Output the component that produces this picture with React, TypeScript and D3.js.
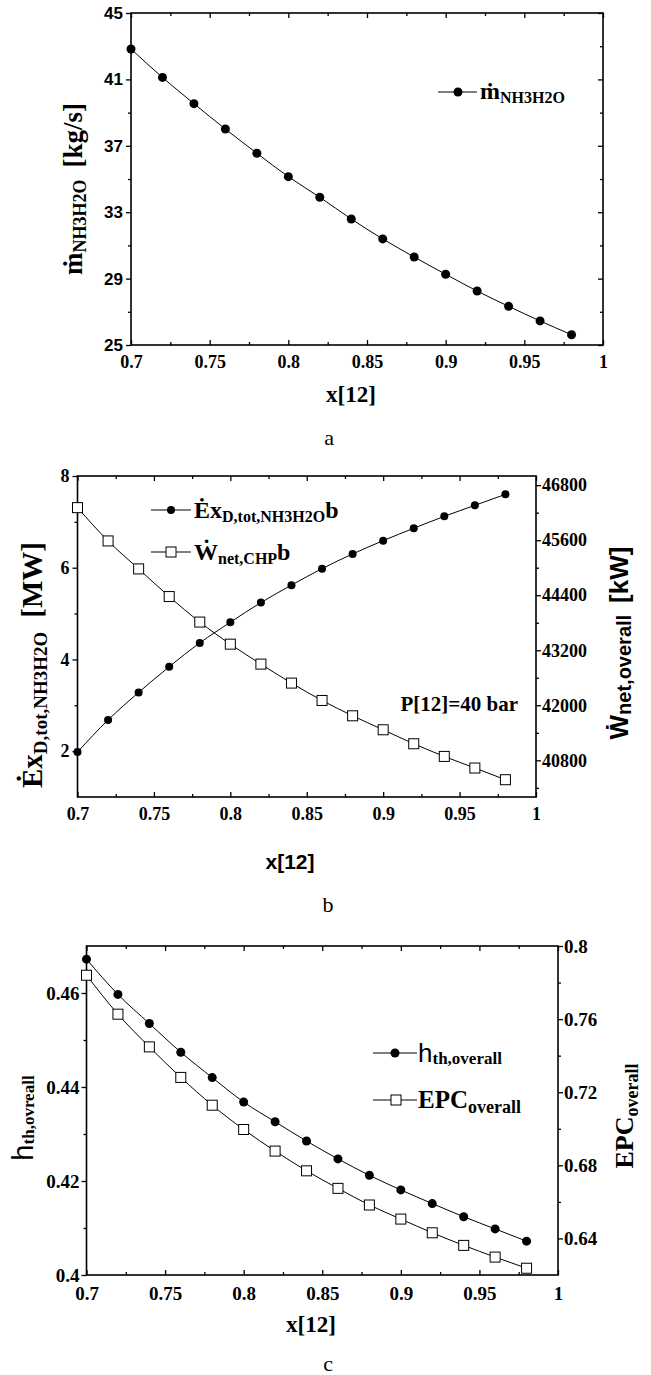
import React, { useEffect, useRef } from 'react';
import * as d3 from 'd3';

const SERIF = 'Liberation Serif, Times New Roman, serif';
const SANS = 'Liberation Sans, Arial, sans-serif';
const NARROW = 'Liberation Sans Narrow, Arial Narrow, Liberation Sans, sans-serif';

// x[12] values shared by the three panels
const xValues = [0.7, 0.72, 0.74, 0.76, 0.78, 0.8, 0.82, 0.84, 0.86, 0.88, 0.9, 0.92, 0.94, 0.96, 0.98];

// panel a
const massFlow = [42.83, 41.12, 39.54, 38.01, 36.55, 35.14, 33.9, 32.59, 31.39, 30.3, 29.26, 28.25, 27.33, 26.45, 25.62];
// panel b
const exDestruction = [1.98, 2.68, 3.28, 3.84, 4.36, 4.81, 5.24, 5.62, 5.98, 6.3, 6.59, 6.86, 7.12, 7.36, 7.6];
const netPower = [46310, 45584, 44974, 44371, 43815, 43333, 42898, 42484, 42105, 41771, 41466, 41161, 40885, 40632, 40377];
// panel c
const thermalEff = [0.4672, 0.4597, 0.4535, 0.4474, 0.442, 0.4368, 0.4326, 0.4285, 0.4247, 0.4212, 0.4181, 0.4152, 0.4124, 0.4098, 0.4072];
const epcOverall = [0.784, 0.7627, 0.7448, 0.7281, 0.7129, 0.6996, 0.6878, 0.677, 0.6674, 0.6583, 0.6506, 0.6431, 0.6362, 0.6298, 0.6237];

const xTicks = [0.7, 0.75, 0.8, 0.85, 0.9, 0.95, 1];
const xMinor = [0.725, 0.775, 0.825, 0.875, 0.925, 0.975];
const aTicks = [25, 29, 33, 37, 41, 45];
const aMinor = [27, 31, 35, 39, 43];
const bLeftTicks = [2, 4, 6, 8];
const bLeftMinor = [3, 5, 7];
const bRightTicks = [40800, 42000, 43200, 44400, 45600, 46800];
const bRightMinor = [40200, 41400, 42600, 43800, 45000, 46200];
const cLeftTicks = [0.4, 0.42, 0.44, 0.46];
const cLeftMinor = [0.41, 0.43, 0.45];
const cRightTicks = [0.64, 0.68, 0.72, 0.76, 0.8];
const cRightMinor = [0.66, 0.7, 0.74, 0.78];

const fmt = (v) => String(+(+v).toFixed(3));

function styleAxis(g, family, size) {
  g.select('.domain').remove();
  g.selectAll('line').attr('stroke', '#000').attr('stroke-width', 1.3);
  g.selectAll('text')
    .attr('fill', '#000')
    .style('font-family', family)
    .style('font-size', size + 'px')
    .style('font-weight', 'bold');
  return g;
}

// text made of runs (main letters, subscripts) as tspans
function rich(parent, x, y, parts, anchor = 'start', rotate = false) {
  const g = parent.append('g').attr('transform', `translate(${x},${y})${rotate ? ' rotate(-90)' : ''}`);
  const text = g.append('text').attr('text-anchor', anchor).attr('fill', '#000');
  let prev = 0;
  parts.forEach((p) => {
    const shift = p.shift || 0;
    text.append('tspan')
      .style('font-family', p.family || SERIF)
      .style('font-size', p.size + 'px')
      .style('font-weight', p.weight || 'bold')
      .attr('dy', shift - prev)
      .attr('dx', p.dx || 0)
      .text(p.t);
    prev = shift;
  });
  return g;
}

function frame(svg, x, y) {
  const [x0, x1] = x.range();
  const [yb, yt] = y.range();
  svg.append('rect')
    .attr('x', x0).attr('y', yt)
    .attr('width', x1 - x0).attr('height', yb - yt)
    .attr('fill', 'none').attr('stroke', '#000').attr('stroke-width', 1.6);
}

function xAxes(svg, x, y, family, size, labelY) {
  const [yb, yt] = y.range();
  const bottom = svg.append('g').attr('transform', `translate(0,${yb})`)
    .call(d3.axisBottom(x).tickValues(xTicks).tickSize(-5).tickFormat(fmt));
  styleAxis(bottom, family, size);
  bottom.selectAll('text').attr('y', labelY).attr('dy', null);
  const bMinor = svg.append('g').attr('transform', `translate(0,${yb})`)
    .call(d3.axisBottom(x).tickValues(xMinor).tickSize(-3).tickFormat(''));
  styleAxis(bMinor, family, size);
  const top = svg.append('g').attr('transform', `translate(0,${yt})`)
    .call(d3.axisTop(x).tickValues(xTicks).tickSize(-5).tickFormat(''));
  styleAxis(top, family, size);
  const tMinor = svg.append('g').attr('transform', `translate(0,${yt})`)
    .call(d3.axisTop(x).tickValues(xMinor).tickSize(-3).tickFormat(''));
  styleAxis(tMinor, family, size);
}

function yAxis(svg, y, xPos, side, ticks, minor, size, family, fontSize, labels, pad) {
  const make = side === 'left' ? d3.axisLeft : d3.axisRight;
  const major = svg.append('g').attr('transform', `translate(${xPos},0)`)
    .call(make(y).tickValues(ticks).tickSize(size).tickPadding(pad).tickFormat(labels ? fmt : ''));
  styleAxis(major, family, fontSize);
  const mn = svg.append('g').attr('transform', `translate(${xPos},0)`)
    .call(make(y).tickValues(minor).tickSize(size > 0 ? 3 : -3).tickFormat(''));
  styleAxis(mn, family, fontSize);
}

function series(svg, x, y, values, marker, r) {
  const pts = xValues.map((xv, i) => [x(xv), y(values[i])]);
  svg.append('path')
    .attr('d', d3.line().curve(d3.curveMonotoneX)(pts))
    .attr('fill', 'none').attr('stroke', '#000').attr('stroke-width', 1);
  pts.forEach(([px, py]) => drawMarker(svg, px, py, marker, r));
}

function drawMarker(svg, px, py, marker, r) {
  if (marker === 'circle') {
    svg.append('circle').attr('cx', px).attr('cy', py).attr('r', r).attr('fill', '#000');
  } else {
    svg.append('rect').attr('x', px - r).attr('y', py - r).attr('width', 2 * r).attr('height', 2 * r)
      .attr('fill', '#fff').attr('stroke', '#000').attr('stroke-width', 1);
  }
}

function legendRow(svg, x0, x1, xm, y, marker, r, parts, textX, textY) {
  svg.append('line').attr('x1', x0).attr('x2', x1).attr('y1', y).attr('y2', y)
    .attr('stroke', '#000').attr('stroke-width', 1);
  drawMarker(svg, xm, y, marker, r);
  rich(svg, textX, textY, parts);
}

export default function App() {
  const ref = useRef(null);

  useEffect(() => {
    const svg = d3.select(ref.current);
    svg.selectAll('*').remove();

    // ---------- panel a ----------
    const xa = d3.scaleLinear().domain([0.7, 1]).range([131, 603]);
    const ya = d3.scaleLinear().domain([25, 45]).range([345, 13]);
    xAxes(svg, xa, ya, SERIF, 18, 23);
    yAxis(svg, ya, 131, 'left', aTicks, aMinor, 5, NARROW, 17, true, 3);
    yAxis(svg, ya, 603, 'right', aTicks, aMinor, -5, SERIF, 17, false, 3);
    frame(svg, xa, ya);
    series(svg, xa, ya, massFlow, 'circle', 4.5);
    legendRow(svg, 438, 477, 458, 92, 'circle', 4.5,
      [{ t: 'ṁ', size: 24 }, { t: 'NH3H2O', size: 16, shift: 4 }], 480, 99);
    rich(svg, 82, 189, [
      { t: 'ṁ', size: 27 }, { t: 'NH3H2O', size: 18, shift: 4 }, { t: '[kg/s]', size: 27, shift: 0, dx: 12 },
    ], 'middle', true);
    rich(svg, 351, 402, [{ t: 'x[12]', size: 23 }], 'middle');
    rich(svg, 329, 445, [{ t: 'a', size: 22, weight: 'normal' }], 'middle');

    // ---------- panel b ----------
    const xb = d3.scaleLinear().domain([0.7, 1]).range([77.5, 536]);
    const ybL = d3.scaleLinear().domain([1, 8]).range([797, 476]);
    const ybR = d3.scaleLinear().domain([40000, 47000]).range([797, 476]);
    xAxes(svg, xb, ybL, SERIF, 18, 23);
    yAxis(svg, ybL, 77.5, 'left', bLeftTicks, bLeftMinor, 5, SERIF, 18, true, 3);
    yAxis(svg, ybR, 536, 'right', bRightTicks, bRightMinor, 5, SERIF, 18, true, 1);
    frame(svg, xb, ybL);
    series(svg, xb, ybL, exDestruction, 'circle', 4);
    series(svg, xb, ybR, netPower, 'square', 5);
    legendRow(svg, 151, 191, 171, 510, 'circle', 4,
      [{ t: 'Ėx', size: 24 }, { t: 'D,tot,NH3H2O', size: 16, shift: 4 }, { t: 'b', size: 24, shift: 0 }], 194, 518);
    legendRow(svg, 151, 191, 171, 552, 'square', 5,
      [{ t: 'Ẇ', size: 24 }, { t: 'net,CHP', size: 16, shift: 4 }, { t: 'b', size: 24, shift: 0 }], 194, 560);
    rich(svg, 518, 711, [{ t: 'P[12]=40 bar', size: 21 }], 'end');
    rich(svg, 42, 665, [
      { t: 'Ėx', size: 29 }, { t: 'D,tot,NH3H2O', size: 19, shift: 5 }, { t: '[MW]', size: 29, shift: 0, dx: 14 },
    ], 'middle', true);
    rich(svg, 628, 643, [
      { t: 'Ẇ', size: 26, family: SANS }, { t: 'net,overall', size: 20, family: SANS, shift: 3 },
      { t: '[kW]', size: 26, family: SANS, shift: 0, dx: 12 },
    ], 'middle', true);
    rich(svg, 290, 869, [{ t: 'x[12]', size: 21, family: SANS }], 'middle');
    rich(svg, 328, 912, [{ t: 'b', size: 22, weight: 'normal' }], 'middle');

    // ---------- panel c ----------
    const xc = d3.scaleLinear().domain([0.7, 1]).range([86.5, 558]);
    const ycL = d3.scaleLinear().domain([0.4, 0.47]).range([1275, 946]);
    const ycR = d3.scaleLinear().domain([0.62, 0.8]).range([1275, 946]);
    xAxes(svg, xc, ycL, SERIF, 19, 25);
    yAxis(svg, ycL, 86.5, 'left', cLeftTicks, cLeftMinor, 5, SERIF, 19, true, 2);
    yAxis(svg, ycR, 558, 'right', cRightTicks, cRightMinor, 5, SERIF, 19, true, 1);
    frame(svg, xc, ycL);
    series(svg, xc, ycL, thermalEff, 'circle', 4.5);
    series(svg, xc, ycR, epcOverall, 'square', 5);
    legendRow(svg, 373, 417, 395, 1053, 'circle', 4.5,
      [{ t: 'h', size: 26, family: SANS, weight: 'normal' }, { t: 'th,overall', size: 17, shift: 2 }], 418, 1062);
    legendRow(svg, 373, 417, 396, 1100, 'square', 5,
      [{ t: 'EPC', size: 25 }, { t: 'overall', size: 18, shift: 5 }], 418, 1108);
    rich(svg, 33, 1118, [
      { t: 'h', size: 29, family: SANS, weight: 'normal' }, { t: 'th,ovreall', size: 17, shift: 1 },
    ], 'middle', true);
    rich(svg, 633, 1116, [{ t: 'EPC', size: 26 }, { t: 'overall', size: 18, shift: 5 }], 'middle', true);
    rich(svg, 311, 1332, [{ t: 'x[12]', size: 23 }], 'middle');
    rich(svg, 328, 1371, [{ t: 'c', size: 22, weight: 'normal' }], 'middle');
  }, []);

  return (
    <svg
      ref={ref}
      width={651}
      height={1375}
      style={{ position: 'absolute', left: 0, top: 0, background: '#fff' }}
    />
  );
}
